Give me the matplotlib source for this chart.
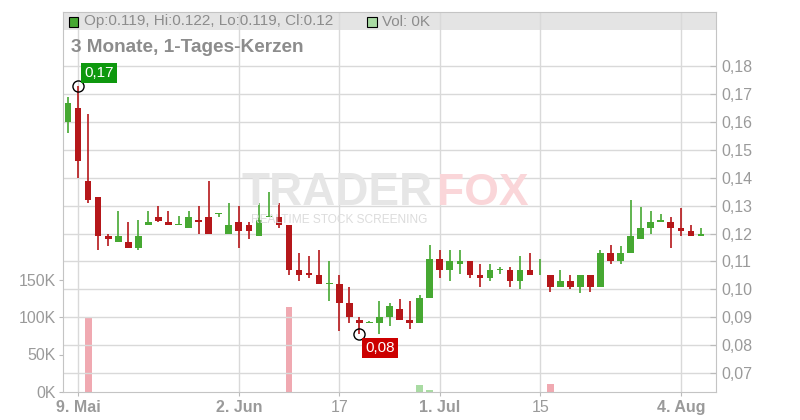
import matplotlib
matplotlib.use("Agg")
import matplotlib.pyplot as plt
from matplotlib.patches import Rectangle
from matplotlib.ticker import FuncFormatter

plt.rcParams['font.family'] = ['Liberation Sans', 'DejaVu Sans']

# daily candles, 8 May .. 6 Aug (trading-day index)
opens = [0.160, 0.165, 0.139, 0.133, 0.119, 0.117, 0.117, 0.115, 0.123, 0.126,
         0.124, 0.123, 0.122, 0.125, 0.126, 0.127, 0.120, 0.124, 0.123, 0.119,
         0.126, 0.126, 0.123, 0.107, 0.106, 0.105, 0.102, 0.102, 0.095, 0.089,
         0.088, 0.088, 0.090, 0.093, 0.089, 0.088, 0.097, 0.111, 0.107, 0.109,
         0.110, 0.105, 0.104, 0.107, 0.107, 0.103, 0.107, 0.105, 0.105, 0.101,
         0.103, 0.101, 0.105, 0.101, 0.113, 0.110, 0.113, 0.118, 0.122, 0.124,
         0.124, 0.122, 0.121, 0.119]
highs = [0.169, 0.173, 0.163, 0.133, 0.120, 0.128, 0.124, 0.125, 0.128, 0.130,
         0.128, 0.1264, 0.128, 0.130, 0.139, 0.127, 0.131, 0.130, 0.124, 0.131,
         0.135, 0.131, 0.123, 0.113, 0.112, 0.114, 0.110, 0.105, 0.101, 0.090,
         0.0885, 0.096, 0.095, 0.0965, 0.096, 0.098, 0.116, 0.114, 0.114, 0.114,
         0.110, 0.109, 0.109, 0.108, 0.108, 0.112, 0.113, 0.111, 0.105, 0.107,
         0.105, 0.105, 0.105, 0.114, 0.116, 0.1155, 0.132, 0.1295, 0.128, 0.127,
         0.126, 0.129, 0.123, 0.122]
lows = [0.156, 0.140, 0.131, 0.114, 0.1157, 0.117, 0.115, 0.114, 0.123, 0.124,
        0.123, 0.123, 0.122, 0.120, 0.120, 0.126, 0.120, 0.115, 0.118, 0.119,
        0.126, 0.122, 0.105, 0.103, 0.104, 0.102, 0.096, 0.085, 0.088, 0.084,
        0.088, 0.084, 0.087, 0.089, 0.0858, 0.088, 0.097, 0.104, 0.103, 0.1056,
        0.104, 0.101, 0.103, 0.1056, 0.101, 0.100, 0.105, 0.105, 0.099, 0.101,
        0.100, 0.0988, 0.099, 0.101, 0.109, 0.109, 0.113, 0.118, 0.120, 0.124,
        0.115, 0.119, 0.119, 0.119]
closes = [0.167, 0.146, 0.132, 0.119, 0.118, 0.119, 0.115, 0.119, 0.124, 0.1245,
          0.123, 0.123, 0.126, 0.124, 0.120, 0.127, 0.123, 0.121, 0.121, 0.125,
          0.126, 0.123, 0.107, 0.105, 0.105, 0.102, 0.102, 0.095, 0.090, 0.088,
          0.088, 0.090, 0.094, 0.089, 0.088, 0.097, 0.111, 0.107, 0.110, 0.110,
          0.105, 0.104, 0.107, 0.107, 0.103, 0.107, 0.105, 0.105, 0.101, 0.103,
          0.101, 0.105, 0.101, 0.113, 0.110, 0.113, 0.119, 0.122, 0.124, 0.125,
          0.122, 0.121, 0.119, 0.120]

# days with volume (index, shares)
vol_idx = [2, 22, 35, 36, 48]
vol_val = [100000, 113000, 9300, 2700, 10700]

tick_pos = [1, 17, 27, 37, 47, 61]
tick_lab = ["9. Mai", "2. Jun", "17", "1. Jul", "15", "4. Aug"]
tick_bold = [True, True, False, True, False, True]

price_ticks = [0.07, 0.08, 0.09, 0.10, 0.11, 0.12, 0.13, 0.14, 0.15, 0.16, 0.17, 0.18]
vol_ticks = [0, 50000, 100000, 150000]

hi_idx, hi_val = 1, 0.173
lo_idx, lo_val = 29, 0.084

GREEN = '#46a832'
RED = '#b5171a'
GRID = '#d9d9d9'
TXT = '#9a9a9a'

W, H = 800, 420
fig = plt.figure(figsize=(8, 4.2), dpi=100)
L, R, T, B = 63, 716, 12, 392
rect = [L / W, (H - B) / H, (R - L) / W, (B - T) / H]

# volume axes (behind)
axv = fig.add_axes(rect)
axv.set_xlim(-0.5, 64.5)
axv.set_ylim(0, 380 / 37.5 * 50000)
vcols = ['#a9dba3' if closes[i] >= opens[i] else '#f0a9b1' for i in vol_idx]
axv.bar(vol_idx, vol_val, width=0.68, color=vcols, zorder=2)
axv.set_yticks(vol_ticks)
axv.set_yticklabels(["%dK" % (v // 1000) for v in vol_ticks])
axv.tick_params(axis='y', left=True, length=3, color='#bbbbbb', labelcolor=TXT,
                labelsize=11.5, pad=2)
axv.set_xticks([])
for s in axv.spines.values():
    s.set_visible(False)
# header band
axv.add_patch(Rectangle((0, (B - 30) / (B - T)), 1, 18 / (B - T), transform=axv.transAxes,
                        facecolor='#e4e4e4', edgecolor='none', zorder=0))

# watermark
fig.text(241 / W, 1 - 205 / H, "TRADER", fontsize=33, fontweight='bold', color='#e6e6e6',
         ha='left', va='baseline')
fig.text(437 / W, 1 - 205 / H, "FOX", fontsize=32, fontweight='bold', color='#fad6d9',
         ha='left', va='baseline')
fig.text(251 / W, 1 - 223 / H, "REALTIME STOCK SCREENING",
         fontsize=8.6, color='#dcdcdc', ha='left', va='baseline')

# price axes (on top)
ax = fig.add_axes(rect, facecolor='none')
ax.set_xlim(-0.5, 64.5)
ax.set_ylim(0.07 - 19 / 2790, 0.18 + 54.3 / 2790)
ax.set_axisbelow(True)

for i in range(len(opens)):
    o, h, l, c = opens[i], highs[i], lows[i], closes[i]
    col = GREEN if c >= o else RED
    ax.vlines(i, l, h, color=col, lw=1.2, zorder=3)
    ax.bar(i, max(abs(c - o), 0.0003), bottom=min(o, c), width=0.66, color=col, zorder=4)

ax.yaxis.tick_right()
ax.set_yticks(price_ticks)
ax.yaxis.set_major_formatter(FuncFormatter(lambda v, p: ("%.2f" % v).replace('.', ',')))
ax.set_xticks(tick_pos)
ax.set_xticklabels(tick_lab)
for lab, b in zip(ax.get_xticklabels(), tick_bold):
    lab.set_fontweight('bold' if b else 'normal')
ax.tick_params(axis='y', direction='in', length=4, color='#bbbbbb', labelcolor=TXT,
               labelsize=11.5, pad=4)
ax.tick_params(axis='x', length=3, color='#bbbbbb', labelcolor=TXT, labelsize=11.5, pad=3)
ax.grid(True, color=GRID, lw=1)
for s in ax.spines.values():
    s.set_color('#c4c4c4')

# high / low markers
ax.plot([hi_idx], [hi_val], 'o', ms=8, mfc='none', mec='black', mew=1, zorder=6)
ax.plot([lo_idx], [lo_val], 'o', ms=8, mfc='none', mec='black', mew=1, zorder=6)
ax.annotate(("%.2f" % hi_val).replace('.', ','), (hi_idx, hi_val), xytext=(6, 6),
            textcoords='offset pixels', ha='left', va='bottom', color='white', fontsize=11,
            bbox=dict(boxstyle='square,pad=0.2', fc='#0e980e', ec='none'), zorder=7)
ax.annotate(("%.2f" % lo_val).replace('.', ','), (lo_idx, lo_val), xytext=(6, -7),
            textcoords='offset pixels', ha='left', va='top', color='white', fontsize=11,
            bbox=dict(boxstyle='square,pad=0.2', fc='#cc0000', ec='none'), zorder=7)

# header texts
fig.patches.append(Rectangle((68.5 / W, 1 - 26.5 / H), 9.5 / W, 9.5 / H, transform=fig.transFigure,
                             facecolor=GREEN, edgecolor='black', lw=0.8))
fig.text(84 / W, 1 - 21.5 / H, "Op:0.119, Hi:0.122, Lo:0.119, Cl:0.12", fontsize=11,
         color='#8c8c8c', ha='left', va='center')
fig.patches.append(Rectangle((367 / W, 1 - 26.5 / H), 9.5 / W, 9.5 / H, transform=fig.transFigure,
                             facecolor='#a9dba3', edgecolor='black', lw=0.8))
fig.text(382 / W, 1 - 21.5 / H, "Vol: 0K", fontsize=11, color='#8c8c8c', ha='left', va='center')
fig.text(71 / W, 1 - 47.5 / H, "3 Monate, 1-Tages-Kerzen", fontsize=13.7, fontweight='bold',
         color='#8c8c8c', ha='left', va='center')

fig.savefig("out.png", dpi=100)
